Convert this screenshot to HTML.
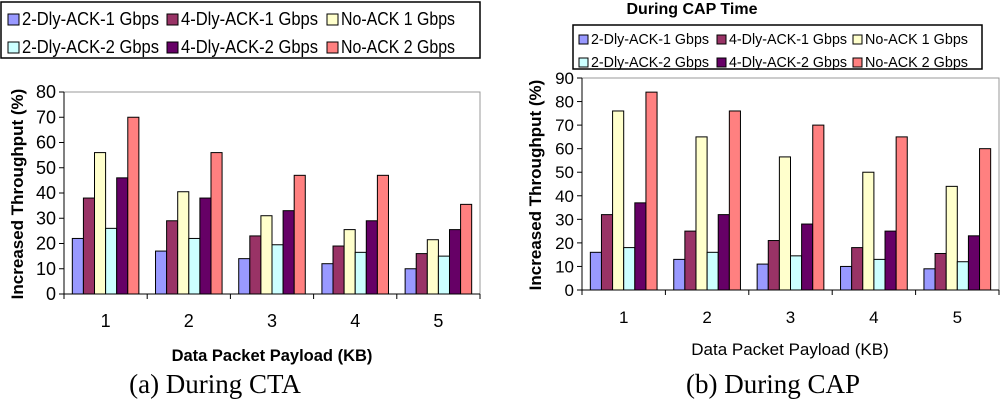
<!DOCTYPE html>
<html><head><meta charset="utf-8"><style>
html,body{margin:0;padding:0;background:#fff;width:1000px;height:404px;overflow:hidden}
svg{display:block;font-family:"Liberation Sans",Arial,sans-serif}
</style></head><body>
<svg id="s" width="1000" height="404"></svg>
<script>
const categories=["1","2","3","4","5"];
const seriesNames=["2-Dly-ACK-1 Gbps","4-Dly-ACK-1 Gbps","No-ACK 1 Gbps","2-Dly-ACK-2 Gbps","4-Dly-ACK-2 Gbps","No-ACK 2 Gbps"];
const ctaD1=[22,17,14,12,10];
const ctaD4a=[38,29,23,19,16];
const ctaNo1=[56,40.5,31,25.5,21.5];
const ctaD2=[26,22,19.5,16.5,15];
const ctaD4b=[46,38,33,29,25.5];
const ctaNo2=[70,56,47,47,35.5];
const capD1=[16,13,11,10,9];
const capD4a=[32,25,21,18,15.5];
const capNo1=[76,65,56.5,50,44];
const capD2=[18,16,14.5,13,12];
const capD4b=[37,32,28,25,23];
const capNo2=[84,76,70,65,60];
const ctaTicks=[0,10,20,30,40,50,60,70,80];
const capTicks=[0,10,20,30,40,50,60,70,80,90];
const colors=["#9999ff","#993366","#ffffcc","#ccffff","#660066","#ff8080"];
const NS="http://www.w3.org/2000/svg";
const svg=document.getElementById('s');
function el(t,a,p){const e=document.createElementNS(NS,t);for(const k in a)e.setAttribute(k,a[k]);(p||svg).appendChild(e);return e;}
function txt(s,a,p){const e=el('text',a,p);e.textContent=s;return e;}

function chart(cfg){
  const g=el('g',{});
  
  
  const x0=cfg.x0,x1=cfg.x1,y0=cfg.y0,yT=cfg.yTop,max=cfg.max;
  const yS=v=>y0-(v/max)*(y0-yT);
  const cw=(x1-x0)/categories.length;
  const xS=i=>x0+i*cw;
  const fr=el('path',{d:`M${x0} ${yT}H${x1}V${y0}`,fill:'none',stroke:'#999','stroke-width':1},g);
  
  
  cfg.ticks.forEach(t=>{
    const y=yS(t);
    el('line',{x1:x0-5,x2:x0,y1:y,y2:y,stroke:'#000'},g);
    const l=txt(String(t),{x:x0-8,y:y+6,'text-anchor':'end','font-size':cfg.fs,fill:'#000'},g);
    
    
  });
  const bw=cw*0.8/6;
  cfg.data.forEach((arr,si)=>{
    arr.forEach((v,i)=>{
      const x=xS(i)+cw*0.1+si*bw;
      const r=el('rect',{x:x,y:yS(v),width:bw,height:y0-yS(v),fill:colors[si],stroke:'#000','stroke-width':1},g);
      
      
    });
  });
  el('line',{x1:x0,x2:x0,y1:yT,y2:y0,stroke:'#000'},g);
  el('line',{x1:x0,x2:x1,y1:y0,y2:y0,stroke:'#000'},g);
  for(let i=0;i<=categories.length;i++)el('line',{x1:xS(i),x2:xS(i),y1:y0,y2:y0+5,stroke:'#000'},g);
  categories.forEach((c,i)=>{
    const l=txt(c,{x:xS(i)+cw/2,y:y0+33,'text-anchor':'middle','font-size':cfg.fs,fill:'#000'},g);
    
    
  });
}

chart({name:'cta-chart',x0:64,x1:480,y0:294,yTop:92,max:80,ticks:ctaTicks,fs:18,
  data:[ctaD1,ctaD4a,ctaNo1,ctaD2,ctaD4b,ctaNo2]});
chart({name:'cap-chart',x0:582,x1:999,y0:290,yTop:78,max:90,ticks:capTicks,fs:17,
  data:[capD1,capD4a,capNo1,capD2,capD4b,capNo2]});

function legend(name,bx,by,bw,bh,cols,rows,fs,sw,tl){
  const g=el('g',{});
  
  
  el('rect',{x:bx,y:by,width:bw,height:bh,fill:'#fff',stroke:'#000','stroke-width':1.5},g);
  seriesNames.forEach((n,i)=>{
    const c=i%3,r=Math.floor(i/3);
    const x=cols[c],y=rows[r];
    const sq=el('rect',{x:x,y:y-sw+1,width:sw,height:sw,fill:colors[i],stroke:'#000'},g);
    
    
    const t=txt(n,{x:x+sw+3,y:y+1,'font-size':fs,fill:'#000',textLength:tl[c],lengthAdjust:'spacingAndGlyphs'},g);
    
    
  });
}
legend('cta-legend',1,2,479,56,[8,167,327],[24,52],18.5,11,[137,137,114]);
legend('cap-legend',573,25,409,44,[579,717,853],[43,66],15,9,[118,118,103]);

const yt1=txt('Increased Throughput (%)',{x:0,y:0,'text-anchor':'middle','font-size':17,'font-weight':'bold',transform:'translate(23,194) rotate(-90)'});


const yt2=txt('Increased Throughput (%)',{x:0,y:0,'text-anchor':'middle','font-size':17,'font-weight':'bold',transform:'translate(541,185) rotate(-90)'});


const xt1=txt('Data Packet Payload (KB)',{x:272,y:361,'text-anchor':'middle','font-size':16.5,'font-weight':'bold'});


const xt2=txt('Data Packet Payload (KB)',{x:790,y:355,'text-anchor':'middle','font-size':17});


const ti=txt('During CAP Time',{x:692,y:14,'text-anchor':'middle','font-size':16,'font-weight':'bold'});


const c1=txt('(a) During CTA',{x:215,y:393,'text-anchor':'middle','font-size':27,'font-family':'Liberation Serif,serif'});


const c2=txt('(b) During CAP',{x:773,y:393,'text-anchor':'middle','font-size':27,'font-family':'Liberation Serif,serif'});


</script>
</body></html>
